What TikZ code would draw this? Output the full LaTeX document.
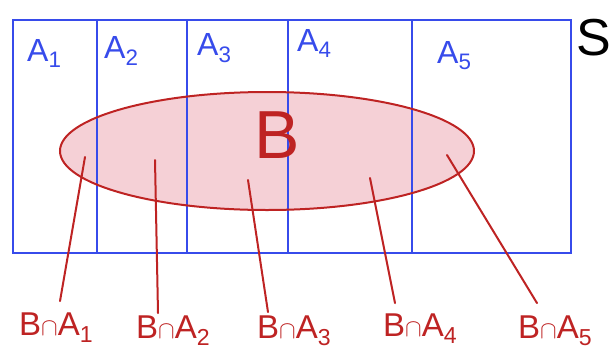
\documentclass[tikz,border=0pt]{standalone}
\usepackage{fontspec}
\setmainfont{Liberation Sans}
\usepackage{tikz}
\usetikzlibrary{positioning, calc}
\definecolor{penblue}{RGB}{55,75,235}
\definecolor{penred}{RGB}{190,35,35}
\definecolor{blobfill}{RGB}{245,208,214}
\tikzset{
    partline/.style={draw=penblue, line width=2pt},
    partlabel/.style={text=penblue, font=\fontsize{32}{32}\selectfont, inner sep=0pt, anchor=base west},
    cutlabel/.style={text=penred, font=\fontsize{33}{33}\selectfont, inner sep=0pt, anchor=base west},
    pointer/.style={draw=penred, line width=2pt, line cap=round}
}
\begin{document}
\begin{tikzpicture}[x=1pt, y=-1pt]
    \useasboundingbox (0,0) rectangle (610,354);
    % event B (fill first, partition on top)
    \fill[blobfill] (267,151) ellipse [x radius=207, y radius=59];
    % sample space S and partition A_1..A_5
    \draw[partline] (13,20) rectangle (571,253);
    \foreach \xx in {97,187,288,412}
        \draw[partline] (\xx,20) -- (\xx,253);
    \draw[penred, line width=2pt] (267,151) ellipse [x radius=207, y radius=59];

    \node (a1) [partlabel] at (27,61) {A\textsubscript{1}};
    \node (a2) [partlabel] at (104,58) {A\textsubscript{2}};
    \node (a3) [partlabel] at (197,55) {A\textsubscript{3}};
    \node (a4) [partlabel] at (297,51) {A\textsubscript{4}};
    \node (a5) [partlabel] at (437,63) {A\textsubscript{5}};
    \node (sname) [partlabel, text=black, font=\fontsize{52}{52}\selectfont] at (576,55) {S};
    \node (bname) [cutlabel, font=\fontsize{68}{68}\selectfont] at (254,158) {B};

    % pieces of B
    \coordinate (in1) at (85,157);
    \coordinate (in2) at (155,160);
    \coordinate (in3) at (248,180);
    \coordinate (in4) at (370,178);
    \coordinate (in5) at (447,155);

    \node (lab1) [cutlabel] at (19,335) {B$\cap$A\textsubscript{1}};
    \node (lab2) [cutlabel] at (136,338) {B$\cap$A\textsubscript{2}};
    \node (lab3) [cutlabel] at (257,338) {B$\cap$A\textsubscript{3}};
    \node (lab4) [cutlabel] at (383,336) {B$\cap$A\textsubscript{4}};
    \node (lab5) [cutlabel] at (518,338) {B$\cap$A\textsubscript{5}};

    \foreach \i/\dx/\dy in {1/41/11, 2/22/2, 3/11/3, 4/12/10, 5/19/12}
        \draw[pointer] ([xshift=\dx pt, yshift=\dy pt]lab\i.north west) -- (in\i);
\end{tikzpicture}
\end{document}
